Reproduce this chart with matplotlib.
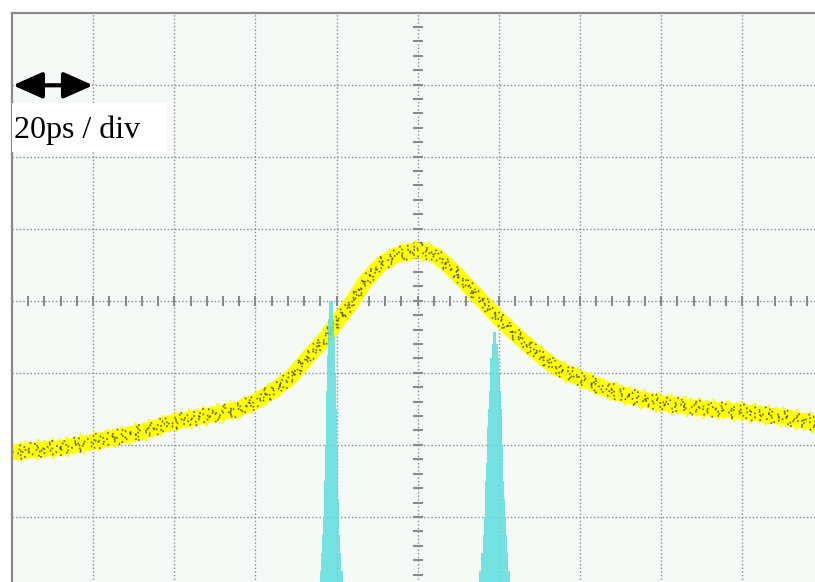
import numpy as np
import matplotlib.pyplot as plt
from matplotlib.patches import Rectangle
from matplotlib.transforms import offset_copy

# scope screen, units are divisions (10 x 8, centre at 0,0)
trace_x = [-5.0, -4.4, -4.0, -3.4, -3.0, -2.43, -2.2, -2.0, -1.77, -1.56, -1.35, -1.16,
           -1.0, -0.83, -0.65, -0.46, -0.27, -0.12, 0.0, 0.15, 0.28, 0.4, 0.53, 0.75,
           1.02, 1.2, 1.39, 1.64, 1.8, 2.01, 2.3, 2.62, 3.0, 3.48, 4.0, 4.47, 5.0]
trace_y = [-2.10, -2.04, -1.96, -1.82, -1.68, -1.56, -1.50, -1.40, -1.24, -1.06, -0.78, -0.55,
           -0.30, -0.05, 0.26, 0.50, 0.63, 0.68, 0.70, 0.67, 0.58, 0.46, 0.31, 0.05,
           -0.27, -0.46, -0.65, -0.88, -0.98, -1.08, -1.22, -1.33, -1.42, -1.49, -1.54, -1.61, -1.72]

# histogram peaks (cyan): level and half width
peak1_center = -1.065
peak1_y  = [0.0, -0.25, -0.5, -0.75, -1.0, -1.25, -1.5, -1.75, -2.0, -2.25, -2.5,
            -2.75, -3.0, -3.25, -3.5, -3.75, -4.0]
peak1_hw = [0.025, 0.035, 0.04, 0.05, 0.055, 0.06, 0.065, 0.07, 0.078, 0.083, 0.088,
            0.094, 0.10, 0.11, 0.125, 0.145, 0.16]

peak2_center = 0.95
peak2_y  = [-0.44, -0.6, -0.8, -1.0, -1.25, -1.5, -1.75, -2.0, -2.25, -2.5, -2.75,
            -3.0, -3.25, -3.5, -3.75, -4.0]
peak2_hw = [0.02, 0.04, 0.055, 0.065, 0.075, 0.085, 0.09, 0.10, 0.105, 0.115, 0.125,
            0.135, 0.15, 0.165, 0.19, 0.22]

label = "20ps / div"

fig = plt.figure(figsize=(8.15, 5.82), dpi=100)
fig.patch.set_facecolor('white')
ax = fig.add_axes([12/815, -7/582, 811.4/815, 576.5/582])
ax.set_xlim(-5, 5)
ax.set_ylim(-4, 4)
ax.set_facecolor('#F5FAF7')
ax.set_xticks([])
ax.set_yticks([])
for s in ['right', 'bottom']:
    ax.spines[s].set_visible(False)
for s in ['left', 'top']:
    ax.spines[s].set_color('#8a8a8a')
    ax.spines[s].set_linewidth(1.6)

# dotted graticule
grid_kw = dict(color='#8c8c8c', lw=1.0, linestyle=(0, (1.0, 1.6)), zorder=1)
for gx in range(-4, 5):
    ax.axvline(gx, **grid_kw)
for gy in range(-3, 4):
    ax.axhline(gy, **grid_kw)

# minor ticks on the centre axes
minor = np.arange(-5, 5.001, 0.2)
ax.plot(minor, np.zeros_like(minor), ls='none', marker='|', ms=6.5, mew=1.5,
        color='#8a8a8a', zorder=1)
minor_y = np.arange(-4, 4.001, 0.2)
ax.plot(np.zeros_like(minor_y), minor_y, ls='none', marker='_', ms=6.5, mew=1.5,
        color='#8a8a8a', zorder=1)

# yellow trace with dark speckles
ax.plot(trace_x, trace_y, color='#FFFF00', lw=11, solid_capstyle='butt',
        solid_joinstyle='round', zorder=2)
for dy, ph, gap in [(8, 0, 2.5), (-8, 2, 3.1), (9.5, 1, 5.3), (-9.5, 3.3, 6.1)]:
    tr = offset_copy(ax.transData, fig=fig, x=0, y=dy, units='dots')
    ax.plot(trace_x, trace_y, color='#FFFF00', lw=1.6, linestyle=(ph, (1, gap)),
            transform=tr, zorder=2)
speck = [(0, 0, 3.5), (2, 1.5, 4.3), (-2, 3, 5.1), (4, 0.7, 6.2), (-4, 2.2, 5.7),
         (6, 4.1, 7.3), (-6, 1.1, 6.9), (1, 2.7, 8.9), (-1, 5.2, 9.7), (7.5, 2.4, 11.3),
         (-7.5, 6.3, 10.1)]
for dy, ph, gap in speck:
    tr = offset_copy(ax.transData, fig=fig, x=0, y=dy, units='dots')
    ax.plot(trace_x, trace_y, color='#3a3a20', lw=1.3, alpha=0.75,
            linestyle=(ph, (0.9, gap)), transform=tr, zorder=2)

# cyan histogram peaks
c = '#5EDDE0'
ax.fill_betweenx(peak1_y, peak1_center - np.array(peak1_hw), peak1_center + np.array(peak1_hw),
                 step='post', color=c, alpha=0.85, lw=0, zorder=3)
ax.fill_betweenx(peak2_y, peak2_center - np.array(peak2_hw), peak2_center + np.array(peak2_hw),
                 step='post', color=c, alpha=0.85, lw=0, zorder=3)

# time base annotation
ax.add_patch(Rectangle((-5, 2.064), 1.91, 0.68, facecolor='white', edgecolor='none', zorder=4))
ax.text(-4.975, 2.26, label, fontsize=23, family='Liberation Serif', va='baseline',
        ha='left', zorder=5)
ax.annotate('', xy=(-4.0, 2.99), xytext=(-4.99, 2.99),
            arrowprops=dict(arrowstyle='<|-|>,head_length=1.8,head_width=0.8',
                            mutation_scale=10, lw=3, color='black',
                            shrinkA=0, shrinkB=0), zorder=5)

fig.savefig('out.png', dpi=100)
